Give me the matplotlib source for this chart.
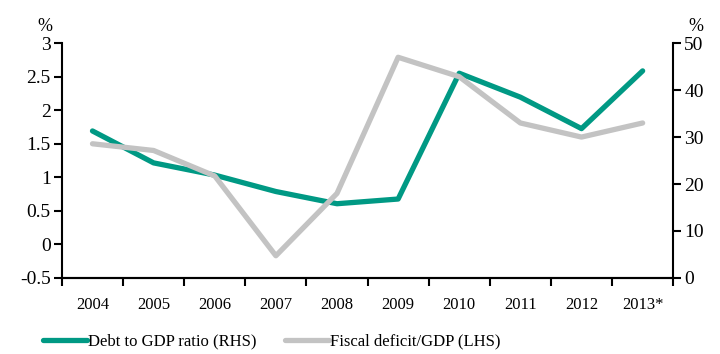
import matplotlib
matplotlib.use("Agg")
import matplotlib.pyplot as plt
import numpy as np

years = ["2004", "2005", "2006", "2007", "2008", "2009", "2010", "2011", "2012", "2013*"]
debt_gdp = [31.3, 24.5, 21.9, 18.4, 15.8, 16.8, 43.6, 38.5, 31.8, 44.1]
fiscal_deficit = [1.5, 1.4, 1.02, -0.17, 0.76, 2.79, 2.5, 1.81, 1.6, 1.81]

plt.rcParams['font.family'] = ['Liberation Serif', 'DejaVu Serif']
teal = "#009984"
grey = "#C3C3C3"

fig = plt.figure(figsize=(7.2, 3.54), dpi=100)
ax = fig.add_axes([0.086, 0.215, 0.849, 0.663])
ax2 = ax.twinx()

x = np.arange(len(years))
l2, = ax.plot(x, fiscal_deficit, color=grey, lw=3.8, solid_capstyle='round', zorder=2)
l1, = ax2.plot(x, debt_gdp, color=teal, lw=3.8, solid_capstyle='round', zorder=3)
ax.set_zorder(ax2.get_zorder() + 1)
ax.patch.set_visible(False)

ax.set_xlim(-0.5, len(years) - 0.5)
ax.set_ylim(-0.5, 3)
ax.set_yticks(np.arange(-0.5, 3.01, 0.5))
ax.set_yticklabels(["-0.5", "0", "0.5", "1", "1.5", "2", "2.5", "3"])
ax2.set_ylim(0, 50)
ax2.set_yticks(range(0, 51, 10))

ax.set_xticks(np.arange(-0.5, len(years), 1.0))
ax.set_xticklabels([])
ax.set_xticks(x, minor=True)
ax.set_xticklabels(years, minor=True)
ax.tick_params(axis='x', which='major', direction='out', length=6, width=1.5)
ax.tick_params(axis='x', which='minor', length=0, labelsize=12, pad=14)
ax.tick_params(axis='y', direction='out', length=6, width=1.5, labelsize=14, pad=2)
ax2.tick_params(axis='y', direction='out', length=6, width=1.5, labelsize=14, pad=2)

for a in (ax, ax2):
    a.spines['top'].set_visible(False)
    for s in ('left', 'right', 'bottom'):
        a.spines[s].set_linewidth(1.5)
ax.spines['right'].set_visible(False)
ax2.spines['left'].set_visible(False)

fig.text(0.062, 0.90, "%", fontsize=13, ha='center', va='bottom')
fig.text(0.967, 0.90, "%", fontsize=13, ha='center', va='bottom')

fig.legend([l1, l2], ["Debt to GDP ratio (RHS)", "Fiscal deficit/GDP (LHS)"],
           loc='center', bbox_to_anchor=(0.378, 0.035), ncol=2, frameon=False,
           fontsize=12, handlelength=2.6, handletextpad=0.1, columnspacing=1.7)

fig.savefig("out.png", dpi=100)
